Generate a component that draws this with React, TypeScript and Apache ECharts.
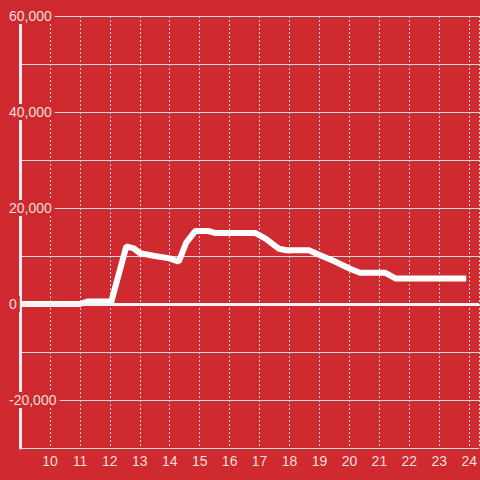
import React, { useEffect, useRef } from "react";
import * as echarts from "echarts";

const hours: number[] = [9.0, 11.0, 11.25, 12.05, 12.55, 12.8, 13.0, 13.5, 14.0, 14.3, 14.55, 14.85, 15.3, 15.5, 16.85, 17.2, 17.65, 17.9, 18.65, 19.0, 19.5, 20.0, 20.35, 21.2, 21.55, 23.9];
const values: number[] = [0, 0, 500, 500, 12000, 11600, 10600, 10000, 9500, 8800, 12800, 15200, 15200, 14800, 14800, 13600, 11500, 11200, 11200, 10200, 8900, 7400, 6500, 6500, 5300, 5300];
const yLabelValues: number[] = [60000, 40000, 20000, 0, -20000];
const xTickLabels: number[] = [10, 11, 12, 13, 14, 15, 16, 17, 18, 19, 20, 21, 22, 23, 24];

const BG = "#ce2a2f";
const TEXT = "rgba(255,255,255,0.85)";

function fmt(v: number): string {
  const s = Math.abs(v).toString().replace(/\B(?=(\d{3})+(?!\d))/g, ",");
  return (v < 0 ? "-" : "") + s;
}

export default function App() {
  const ref = useRef<HTMLDivElement>(null);
  useEffect(() => {
    if (!ref.current) return;
    const chart = echarts.init(ref.current, undefined, { renderer: "svg" });
    chart.setOption({
      animation: false,
      backgroundColor: BG,
      grid: { left: 20, right: 0, top: 16, bottom: 32, containLabel: false },
      xAxis: {
        type: "value",
        min: 9,
        max: 24.333,
        interval: 1,
        axisLine: { show: false },
        axisTick: { show: false },
        axisLabel: {
          color: TEXT,
          fontSize: 14,
          fontFamily: "Liberation Sans, Arial, sans-serif",
          margin: 6,
          showMaxLabel: false,
          formatter: (v: number) => (xTickLabels.indexOf(v) >= 0 ? String(v) : ""),
        },
        splitLine: {
          show: true,
          lineStyle: { color: "#d8d8d8", width: 1, type: [2, 2] },
        },
      },
      yAxis: {
        type: "value",
        min: -30000,
        max: 60000,
        interval: 10000,
        axisLine: { show: true, lineStyle: { color: "#eeeeee", width: 3 } },
        axisTick: { show: false },
        axisLabel: {
          align: "left",
          margin: 14,
          formatter: (v: number) => (yLabelValues.indexOf(v) >= 0 ? "{a|" + fmt(v) + "}" : ""),
          rich: {
            a: {
              color: TEXT,
              fontSize: 14,
              fontFamily: "Liberation Sans, Arial, sans-serif",
              backgroundColor: BG,
              padding: [1, 3, 1, 3],
            },
          },
        },
        splitLine: { show: true, lineStyle: { color: "#d8d8d8", width: 1 } },
      },
      series: [
        {
          type: "line",
          data: hours.map((h, i) => [h, values[i]]),
          showSymbol: false,
          lineStyle: { color: "#ffffff", width: 6 },
          itemStyle: { color: "#ffffff" },
          markLine: {
            silent: true,
            symbol: "none",
            label: { show: false },
            lineStyle: { color: "#f2f2f2", width: 3, type: "solid" },
            data: [{ yAxis: 0 }],
          },
        },
      ],
    });
    return () => chart.dispose();
  }, []);
  return <div ref={ref} style={{ position: "fixed", left: 0, top: 0, width: 480, height: 480 }} />;
}
